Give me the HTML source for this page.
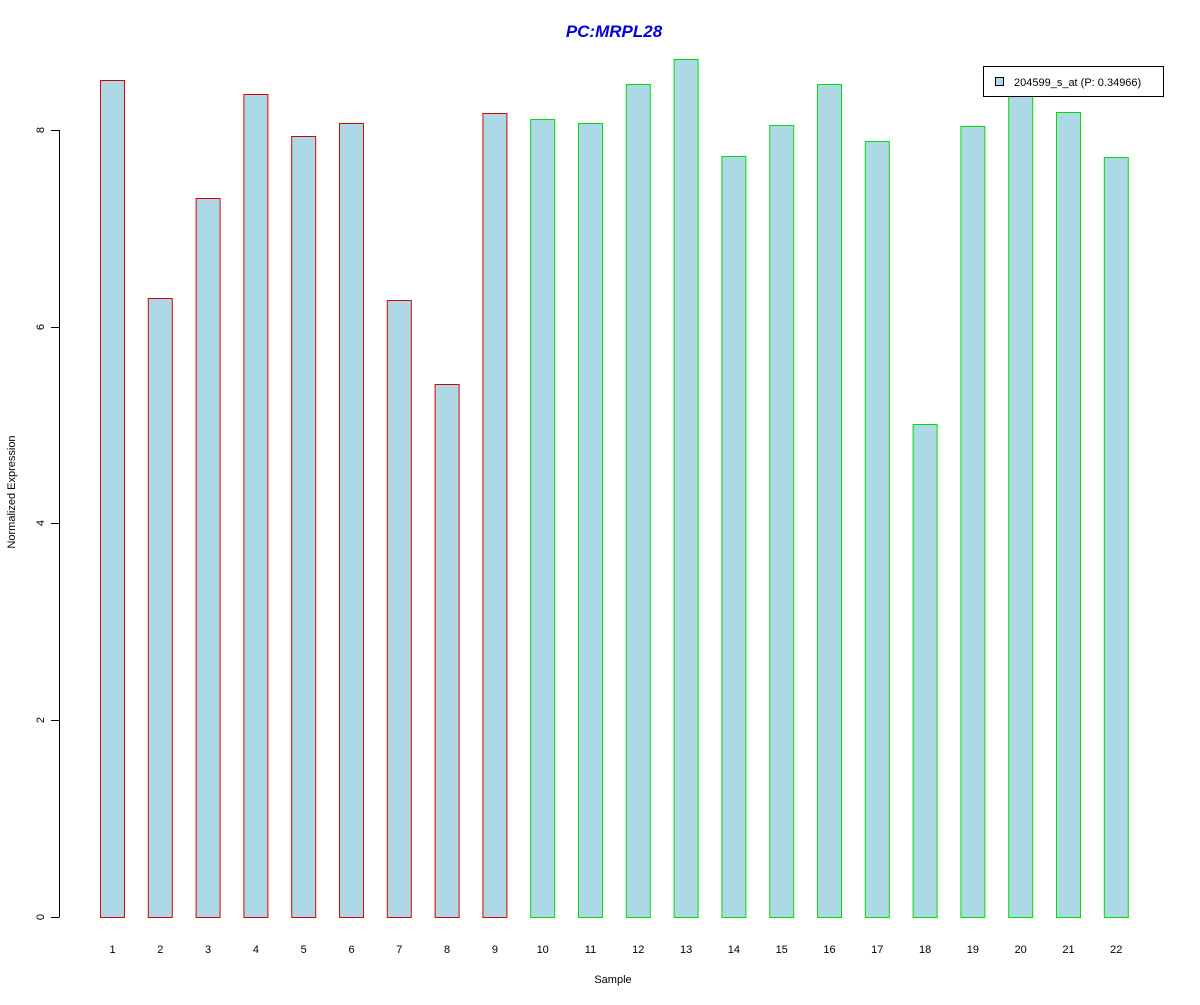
<!DOCTYPE html>
<html><head><style>body{margin:0;background:#fff}</style></head><body>
<svg width="1200" height="1000" xmlns="http://www.w3.org/2000/svg" font-family="Liberation Sans, sans-serif">
<rect width="1200" height="1000" fill="#fff"/>
<text x="614" y="37" text-anchor="middle" font-size="17" font-weight="bold" font-style="italic" fill="#0000dd">PC:MRPL28</text>
<g stroke="#000" stroke-width="1">
<line x1="59.5" y1="130" x2="59.5" y2="917"/>
<line x1="51" y1="917.5" x2="59.5" y2="917.5"/>
<line x1="51" y1="720.5" x2="59.5" y2="720.5"/>
<line x1="51" y1="523.5" x2="59.5" y2="523.5"/>
<line x1="51" y1="327.5" x2="59.5" y2="327.5"/>
<line x1="51" y1="130.5" x2="59.5" y2="130.5"/>
</g>
<g font-size="11" text-anchor="middle" fill="#000">
<text transform="translate(44,917) rotate(-90)">0</text>
<text transform="translate(44,720) rotate(-90)">2</text>
<text transform="translate(44,523) rotate(-90)">4</text>
<text transform="translate(44,327) rotate(-90)">6</text>
<text transform="translate(44,130) rotate(-90)">8</text>
<text transform="translate(15,492) rotate(-90)">Normalized Expression</text>
<text x="613" y="983">Sample</text>
</g>
<g fill="#add8e6" stroke="#dd0000">
<rect x="100.5" y="80.5" width="24" height="837"/>
<rect x="148.3" y="298.5" width="24" height="619"/>
<rect x="196.1" y="198.5" width="24" height="719"/>
<rect x="243.9" y="94.5" width="24" height="823"/>
<rect x="291.7" y="136.5" width="24" height="781"/>
<rect x="339.5" y="123.5" width="24" height="794"/>
<rect x="387.3" y="300.5" width="24" height="617"/>
<rect x="435.1" y="384.5" width="24" height="533"/>
<rect x="482.9" y="113.5" width="24" height="804"/>
</g>
<g fill="#add8e6" stroke="#00dd00">
<rect x="530.7" y="119.5" width="24" height="798"/>
<rect x="578.5" y="123.5" width="24" height="794"/>
<rect x="626.3" y="84.5" width="24" height="833"/>
<rect x="674.1" y="59.5" width="24" height="858"/>
<rect x="721.9" y="156.5" width="24" height="761"/>
<rect x="769.7" y="125.5" width="24" height="792"/>
<rect x="817.5" y="84.5" width="24" height="833"/>
<rect x="865.3" y="141.5" width="24" height="776"/>
<rect x="913.1" y="424.5" width="24" height="493"/>
<rect x="960.9" y="126.5" width="24" height="791"/>
<rect x="1008.7" y="85.5" width="24" height="832"/>
<rect x="1056.5" y="112.5" width="24" height="805"/>
<rect x="1104.3" y="157.5" width="24" height="760"/>
</g>
<g font-size="11" text-anchor="middle">
<text x="112.5" y="953">1</text><text x="160.3" y="953">2</text><text x="208.1" y="953">3</text><text x="255.9" y="953">4</text><text x="303.7" y="953">5</text><text x="351.5" y="953">6</text><text x="399.3" y="953">7</text><text x="447.1" y="953">8</text><text x="494.9" y="953">9</text><text x="542.7" y="953">10</text><text x="590.5" y="953">11</text><text x="638.3" y="953">12</text><text x="686.1" y="953">13</text><text x="733.9" y="953">14</text><text x="781.7" y="953">15</text><text x="829.5" y="953">16</text><text x="877.3" y="953">17</text><text x="925.1" y="953">18</text><text x="972.9" y="953">19</text><text x="1020.7" y="953">20</text><text x="1068.5" y="953">21</text><text x="1116.3" y="953">22</text>
</g>
<rect x="983.5" y="66.5" width="180" height="30" fill="#fff" stroke="#000"/>
<rect x="995.5" y="77.5" width="8" height="8" fill="#add8e6" stroke="#000"/>
<text x="1014" y="86" font-size="11">204599_s_at (P: 0.34966)</text>
</svg>
</body></html>
